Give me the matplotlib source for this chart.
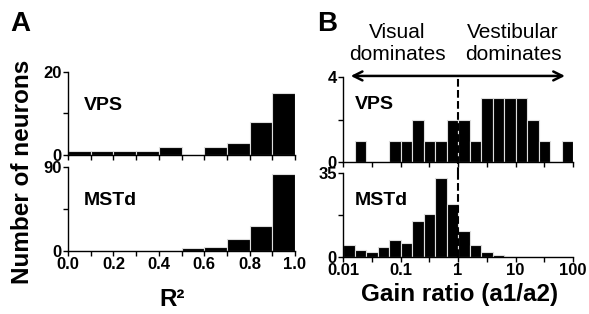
import numpy as np
import matplotlib
matplotlib.use("Agg")
import matplotlib.pyplot as plt

plt.rcParams['font.family'] = ['Liberation Sans', 'DejaVu Sans']

# panel A: R^2 histograms (bins of 0.1)
r2_edges = [0.0, 0.1, 0.2, 0.3, 0.4, 0.5, 0.6, 0.7, 0.8, 0.9, 1.0]
r2_vps = [1, 1, 1, 1, 2, 0, 2, 3, 8, 15]
r2_mstd = [0, 0, 0, 0, 0, 3, 4, 13, 27, 82]

# panel B: gain ratio histograms (5 bins per decade, 0.01 .. 100)
gain_log_edges = [-2.0, -1.8, -1.6, -1.4, -1.2, -1.0, -0.8, -0.6, -0.4, -0.2, 0.0,
                  0.2, 0.4, 0.6, 0.8, 1.0, 1.2, 1.4, 1.6, 1.8, 2.0]
gain_vps = [0, 1, 0, 0, 1, 1, 2, 1, 1, 2, 2, 1, 3, 3, 3, 3, 2, 1, 0, 1]
gain_mstd = [5, 3, 2, 4, 7, 6, 15, 18, 33, 22, 11, 5, 2, 1, 0, 0, 0, 0, 0, 0]

W, H = 589, 314
fig = plt.figure(figsize=(W / 100, H / 100), dpi=100)

def px_axes(left, right, top, bottom):
    return fig.add_axes([left / W, 1 - bottom / H, (right - left) / W, (bottom - top) / H])

def style(ax):
    for s in ['top', 'right']:
        ax.spines[s].set_visible(False)
    for s in ['left', 'bottom']:
        ax.spines[s].set_linewidth(1.0)
    ax.tick_params(which='both', direction='out', length=3.5, width=1, pad=1)
    for lab in ax.get_xticklabels() + ax.get_yticklabels():
        lab.set_fontsize(12)
        lab.set_fontweight('bold')

bar_kw = dict(align='edge', color='black', edgecolor='#dddddd', linewidth=0.8)

# ---- panel A
axA1 = px_axes(68, 295, 72, 155)
axA2 = px_axes(68, 295, 167, 251)
e = np.array(r2_edges)
for ax, vals, top, name in [(axA1, r2_vps, 20, 'VPS'), (axA2, r2_mstd, 90, 'MSTd')]:
    ax.bar(e[:-1], vals, width=np.diff(e), **bar_kw)
    ax.set_xlim(0, 1)
    ax.set_ylim(0, top)
    ax.set_yticks([0, top / 2, top])
    ax.set_yticklabels(['0', '', str(top)])
    ax.set_xticks(e)
    style(ax)
    ax.text(0.07, 0.6, name, transform=ax.transAxes, fontsize=14, fontweight='bold',
            va='center', ha='left')
axA1.set_xticklabels([])
axA2.set_xticklabels(['0.0', '', '0.2', '', '0.4', '', '0.6', '', '0.8', '', '1.0'])
for lab in axA2.get_xticklabels():
    lab.set_fontsize(12)
    lab.set_fontweight('bold')

# ---- panel B
axB1 = px_axes(343, 573, 77, 162)
axB2 = px_axes(343, 573, 173, 257)
ge = 10 ** np.array(gain_log_edges)
for ax, vals, top, name in [(axB1, gain_vps, 4, 'VPS'), (axB2, gain_mstd, 35, 'MSTd')]:
    ax.bar(ge[:-1], vals, width=np.diff(ge), **bar_kw)
    ax.set_xscale('log')
    ax.set_xlim(0.01, 100)
    ax.set_ylim(0, top)
    ax.set_yticks([0, top / 2, top])
    ax.set_yticklabels(['0', '', str(top)])
    ax.set_xticks([0.01, 0.1, 1, 10, 100])
    ax.set_xticks(10 ** np.arange(-1.5, 2, 1.0), minor=True)
    ax.set_xticklabels(['0.01', '0.1', '1', '10', '100'])
    style(ax)
    ax.text(0.05, 0.68 if name == 'VPS' else 0.67, name, transform=ax.transAxes,
            fontsize=14, fontweight='bold', va='center', ha='left')
axB1.set_xticklabels([])

# dashed line at gain ratio 1
y_arrow = 4.05
axB1.plot([1, 1], [-0.6, y_arrow], ls='--', color='black', lw=1.5, clip_on=False)
axB2.plot([1, 1], [0, 35], ls='--', color='black', lw=1.5, clip_on=False)

# arrow
axB1.annotate('', xy=(81, y_arrow), xytext=(0.0122, y_arrow), xycoords='data',
              arrowprops=dict(arrowstyle='<->', lw=1.8, color='black', mutation_scale=16),
              annotation_clip=False)

fig.text(397 / W, 1 - 44 / H, 'Visual\ndominates', ha='center', va='center',
         fontsize=15, linespacing=1.2)
fig.text(513 / W, 1 - 44 / H, 'Vestibular\ndominates', ha='center', va='center',
         fontsize=15, linespacing=1.2)

# labels
fig.text(23 / W, 1 - 172 / H, 'Number of neurons', rotation=90, ha='center', va='center',
         fontsize=17.5, fontweight='bold')
fig.text(172 / W, 1 - 300 / H, 'R²', ha='center', va='center', fontsize=17.5, fontweight='bold')
fig.text(460 / W, 1 - 295 / H, 'Gain ratio (a1/a2)', ha='center', va='center',
         fontsize=17.5, fontweight='bold')
fig.text(10 / W, 1 - 24 / H, 'A', ha='left', va='center', fontsize=20, fontweight='bold')
fig.text(317 / W, 1 - 24 / H, 'B', ha='left', va='center', fontsize=20, fontweight='bold')

fig.savefig('out.png', dpi=100)
